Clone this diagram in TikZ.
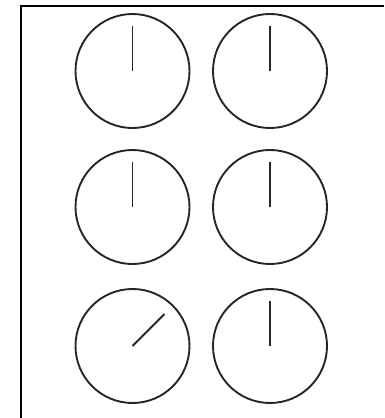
\documentclass[tikz,border=0pt]{standalone}
\usepackage{tikz}
\usetikzlibrary{positioning}

\begin{document}
\begin{tikzpicture}[
    x=1pt, y=-1pt,
    dial/.style={circle, draw=black!85, line width=1.9pt, minimum size=114pt, inner sep=0pt},
    hand/.style={draw=black!85, line width=1.9pt},
    frame/.style={draw=black, line width=2.2pt}
]
    \useasboundingbox (0,0) rectangle (384,418);

    % frame (top and left only)
    \draw[frame] (384,6) -- (21,6) -- (21,418);

    % row 1
    \node[dial] (d11) at (132.5,71) {};
    \node[dial] (d12) at (270,71) {};
    % row 2
    \node[dial] (d21) at (132.5,207) {};
    \node[dial] (d22) at (270,207) {};
    % row 3
    \node[dial] (d31) at (132.5,346) {};
    \node[dial] (d32) at (270,346) {};

    % hands
    \draw[hand] (d11.center) -- ++(0,-45);
    \draw[hand] (d12.center) -- ++(0,-45);
    \draw[hand] (d21.center) -- ++(0,-45);
    \draw[hand] (d22.center) -- ++(0,-45);
    \draw[hand] (d31.center) -- ++(32,-32);
    \draw[hand] (d32.center) -- ++(0,-45);
\end{tikzpicture}
\end{document}
